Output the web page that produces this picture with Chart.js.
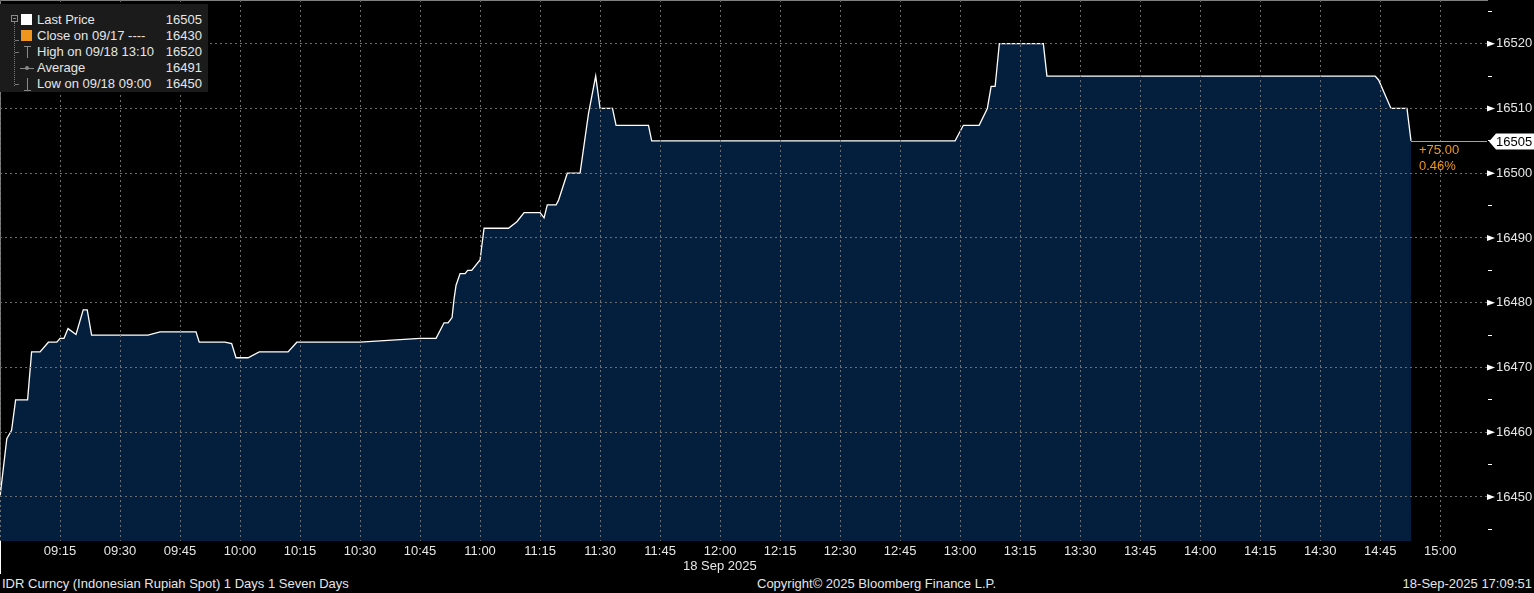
<!DOCTYPE html>
<html>
<head>
<meta charset="utf-8">
<script src="https://cdn.jsdelivr.net/npm/chart.js@4.4.1/dist/chart.umd.min.js"></script>
<style>
  html, body { margin: 0; padding: 0; background: #000; }
  body { width: 1534px; height: 593px; position: relative; overflow: hidden;
         font-family: "Liberation Sans", Arial, sans-serif; font-size: 13px; color: #e6e6e6; }
  #wrap { position: absolute; left: 0; top: 0; width: 1534px; height: 575px; }
  .abs { position: absolute; white-space: nowrap; line-height: 16px; }
  #legend { position: absolute; left: 0; top: 4px; width: 208px; height: 88px; background: #1b1b1b; }
  #legend .row { position: absolute; left: 37px; right: 6px; height: 16px; line-height: 16px; }
  #legend .val { position: absolute; right: 0; top: 0; }
  .ic { position: absolute; }
</style>
</head>
<body>
<div id="wrap"><canvas id="chart" width="1534" height="575"></canvas></div>

<div id="legend"></div>

<div class="abs" style="left:683px; top:558px;">18 Sep 2025</div>
<div class="abs" style="left:2px; top:576px;">IDR Curncy (Indonesian Rupiah Spot) 1 Days 1 Seven Days</div>
<div class="abs" style="left:757px; top:576px;">Copyright© 2025 Bloomberg Finance L.P.</div>
<div class="abs" style="right:2px; top:576px;">18-Sep-2025 17:09:51</div>

<script>
// minutes after 09:00 on 18 Sep 2025, and the spot price at that time
const minutes = [0, 1.7, 2.9, 3.9, 6.9, 7.9, 10, 12.1, 14.2, 15, 16, 17, 19, 20.8, 21.8, 22.9,
  37, 40, 49, 49.8, 56.2, 57.9, 59, 62, 64.8, 72, 74.2, 90, 105, 109, 111, 112, 113, 113.5,
  114, 115, 116.25, 116.9, 117.9, 120, 120.4, 121, 127.1, 129.2, 131, 135, 136, 136.8, 139,
  139.6, 141.8, 145, 147.1, 148.9, 150, 153.1, 154, 162.1, 162.9, 238.75, 240.8, 244.75,
  246.8, 247.75, 248.75, 249.8, 260.8, 261.7, 343.75, 344.6, 347.7, 351.7, 352.7];
const prices = [16450, 16459, 16460.3, 16465, 16465, 16472.4, 16472.4, 16473.9, 16473.9, 16474.5,
  16474.5, 16476, 16475.1, 16478.9, 16478.9, 16475, 16475, 16475.5, 16475.5, 16473.9, 16473.9,
  16473.7, 16471.5, 16471.5, 16472.4, 16472.4, 16473.9, 16473.9, 16474.5, 16474.5, 16476.9,
  16476.9, 16477.7, 16480.6, 16482.7, 16484.5, 16484.5, 16485, 16485, 16486.6, 16488.6,
  16491.5, 16491.5, 16492.5, 16493.9, 16493.9, 16493.1, 16495.1, 16495.1, 16495.8, 16500,
  16500, 16509.2, 16515, 16510, 16510, 16507.4, 16507.4, 16505, 16505, 16507.4, 16507.4,
  16510, 16513.4, 16513.4, 16520, 16520, 16515, 16515, 16514.4, 16510, 16510, 16505];

// x tick labels, every 15 minutes from 09:15
const timeLabels = ['09:15', '09:30', '09:45', '10:00', '10:15', '10:30', '10:45', '11:00',
  '11:15', '11:30', '11:45', '12:00', '12:15', '12:30', '12:45', '13:00', '13:15', '13:30',
  '13:45', '14:00', '14:15', '14:30', '14:45', '15:00'];

// legend
const legendLabels = ['Last Price', 'Close on 09/17 ----', 'High on 09/18 13:10', 'Average', 'Low on 09/18 09:00'];
const legendValues = ['16505', '16430', '16520', '16491', '16450'];

const lastPrice = 16505;
const prevClose = 16430;

const orange = '#f0961e';
const textColor = '#e6e6e6';
const gridColor = '#6e6e6e';

// build legend
const legend = document.getElementById('legend');
legendLabels.forEach((lab, i) => {
  const row = document.createElement('div');
  row.className = 'row';
  row.style.top = (8 + i * 16) + 'px';
  row.innerHTML = '<span>' + lab + '</span><span class="val">' + legendValues[i] + '</span>';
  legend.appendChild(row);
});
// legend icons (tree, squares, markers)
legend.insertAdjacentHTML('beforeend',
  '<div class="ic" style="left:11px;top:11px;width:5px;height:5px;border:1px solid #8a8a8a;"></div>' +
  '<div class="ic" style="left:13px;top:14px;width:3px;height:1px;background:#8a8a8a;"></div>' +
  '<div class="ic" style="left:14px;top:18px;width:1px;height:64px;border-left:1px dotted #777;"></div>' +
  '<div class="ic" style="left:21px;top:10px;width:11px;height:11px;background:#fff;"></div>' +
  '<div class="ic" style="left:21px;top:26px;width:11px;height:11px;background:' + orange + ';"></div>' +
  '<div class="ic" style="left:24px;top:42px;width:7px;height:1px;background:#8a8a8a;"></div>' +
  '<div class="ic" style="left:27px;top:42px;width:1px;height:12px;background:#8a8a8a;"></div>' +
  '<div class="ic" style="left:20px;top:64px;width:14px;height:1px;background:#8a8a8a;"></div>' +
  '<div class="ic" style="left:25px;top:62px;width:4px;height:4px;border-radius:2px;background:#8a8a8a;"></div>' +
  '<div class="ic" style="left:27px;top:74px;width:1px;height:12px;background:#8a8a8a;"></div>' +
  '<div class="ic" style="left:24px;top:86px;width:7px;height:1px;background:#8a8a8a;"></div>' +
  '<div class="ic" style="left:15px;top:36px;width:4px;height:1px;background:#777;"></div>' +
  '<div class="ic" style="left:15px;top:48px;width:4px;height:1px;background:#777;"></div>' +
  '<div class="ic" style="left:15px;top:80px;width:4px;height:1px;background:#777;"></div>'
);

// last price marker, tick arrows and the change text
const lastPricePlugin = {
  id: 'lastPrice',
  afterDraw(chart) {
    const { ctx, chartArea, scales: { x, y } } = chart;
    const endX = x.getPixelForValue(minutes[minutes.length - 1]);
    const py = Math.round(y.getPixelForValue(lastPrice)) + 0.5;
    const change = lastPrice - prevClose;
    ctx.save();

    ctx.strokeStyle = orange;
    ctx.lineWidth = 1;
    ctx.beginPath();
    ctx.moveTo(endX, py);
    ctx.lineTo(chartArea.right, py);
    ctx.stroke();

    ctx.fillStyle = orange;
    ctx.font = '13px "Liberation Sans"';
    ctx.textBaseline = 'middle';
    ctx.fillText((change > 0 ? '+' : '') + change.toFixed(2), endX + 8, py + 9);
    ctx.fillText((change / prevClose * 100).toFixed(2) + '%', endX + 8, py + 25);

    // arrows on the major y ticks
    ctx.fillStyle = '#fff';
    y.ticks.forEach(t => {
      if (t.value % 10 !== 0) return;
      const ty = y.getPixelForValue(t.value);
      ctx.beginPath();
      ctx.moveTo(chartArea.right, ty - 3);
      ctx.lineTo(chartArea.right + 8, ty);
      ctx.lineTo(chartArea.right, ty + 3);
      ctx.closePath();
      ctx.fill();
    });

    // last price tag
    const tx = chartArea.right + 2;
    ctx.beginPath();
    ctx.moveTo(tx, py);
    ctx.lineTo(tx + 7, py - 8);
    ctx.lineTo(1534, py - 8);
    ctx.lineTo(1534, py + 8);
    ctx.lineTo(tx + 7, py + 8);
    ctx.closePath();
    ctx.fill();
    ctx.fillStyle = '#000';
    ctx.fillText(String(lastPrice), tx + 7, py + 1);

    // short left edge line under the axis
    ctx.strokeStyle = '#fff';
    ctx.beginPath();
    ctx.moveTo(0.5, chartArea.bottom);
    ctx.lineTo(0.5, chartArea.bottom + 33);
    ctx.stroke();
    ctx.restore();
  }
};

const ctx = document.getElementById('chart').getContext('2d');
const chart = new Chart(ctx, {
  type: 'line',
  data: {
    datasets: [{
      label: 'Last Price',
      data: minutes.map((m, i) => ({ x: m, y: prices[i] })),
      borderColor: '#ffffff',
      borderWidth: 1.3,
      backgroundColor: '#041e3d',
      fill: 'start',
      pointRadius: 0,
      tension: 0,
    }]
  },
  options: {
    responsive: false,
    animation: false,
    devicePixelRatio: 1,
    layout: { padding: 0 },
    plugins: { legend: { display: false }, tooltip: { enabled: false } },
    scales: {
      x: {
        type: 'linear',
        min: 0,
        max: 371.7,
        grid: { color: gridColor, drawTicks: false, z: 1 },
        border: { display: true, color: '#ffffff', width: 1, dash: [2, 3] },
        ticks: {
          stepSize: 15,
          includeBounds: false,
          autoSkip: false,
          maxRotation: 0,
          padding: 3,
          color: textColor,
          font: { family: 'Liberation Sans', size: 13 },
          callback: v => timeLabels[v / 15 - 1] || '',
        },
        afterFit: s => { s.height = 34; s.paddingLeft = 0; s.paddingRight = 0; },
      },
      y: {
        position: 'right',
        min: 16443.2,
        max: 16526.75,
        grid: {
          color: c => (c.tick && c.tick.value % 10 === 0) ? gridColor : 'rgba(0,0,0,0)',
          tickColor: '#ffffff',
          tickLength: 5,
          z: 1,
        },
        border: { display: true, color: '#ffffff', width: 1, dash: [2, 3] },
        ticks: {
          stepSize: 5,
          includeBounds: false,
          padding: 4,
          color: textColor,
          font: { family: 'Liberation Sans', size: 13 },
          callback: v => v % 10 === 0 ? String(v) : '',
        },
        afterFit: s => { s.width = 47; s.paddingTop = 0; s.paddingBottom = 0; },
      }
    }
  },
  plugins: [lastPricePlugin]
});
</script>
</body>
</html>
